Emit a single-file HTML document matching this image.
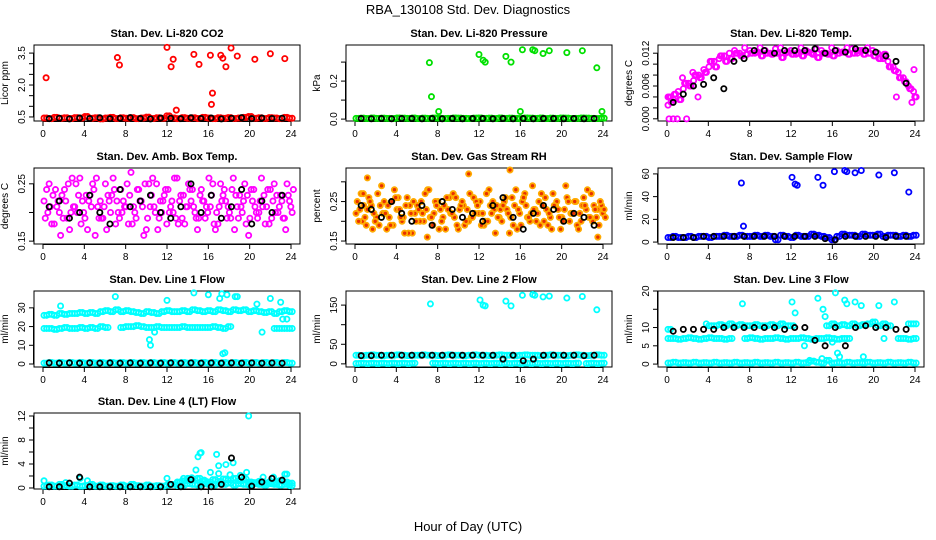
<!DOCTYPE html>
<html><head><meta charset="utf-8">
<style>
html,body{margin:0;padding:0;background:#fff;}
svg{display:block;font-family:"Liberation Sans",Arial,sans-serif;}
</style></head>
<body>
<svg id="chart" width="936" height="540" viewBox="0 0 936 540" xmlns="http://www.w3.org/2000/svg">
<rect width="936" height="540" fill="#fff"/>
<text x="468" y="14" font-size="13" text-anchor="middle">RBA_130108  Std. Dev. Diagnostics</text>
<text x="468" y="531" font-size="13" text-anchor="middle">Hour of Day (UTC)</text>
</svg>
<script>
// ---------- data ----------
const xTicks = [0,4,8,12,16,20,24];
const titles = ["Stan. Dev. Li-820 CO2","Stan. Dev. Li-820 Pressure","Stan. Dev. Li-820 Temp.","Stan. Dev. Amb. Box Temp.","Stan. Dev. Gas Stream RH","Stan. Dev. Sample Flow","Stan. Dev. Line 1 Flow","Stan. Dev. Line 2 Flow","Stan. Dev. Line 3 Flow","Stan. Dev. Line 4 (LT) Flow"];
const yTitles = ["Licor ppm","kPa","degrees C","degrees C","percent","ml/min","ml/min","ml/min","ml/min","ml/min"];
const yLims = [[0.31,3.88],[-0.01,0.39],[-0.0004,0.0135],[0.145,0.2776],[0.1425,0.335],[-1.7,65.2],[-1.6,39],[-8,186],[-0.8,20],[-0.17,12.5]];
const yTickVals = [[0.5,1,1.5,2,2.5,3,3.5],[0,0.1,0.2,0.3],[0,0.002,0.004,0.006,0.008,0.010,0.012],[0.15,0.20,0.25],[0.15,0.20,0.25,0.30],[0,20,40,60],[0,10,20,30],[0,50,100,150],[0,5,10,15,20],[0,2,4,6,8,10,12]];
const yTickLabels = [["0.5","","","2.0","","","3.5"],["0.0","","0.2",""],["0.000","","","0.006","","","0.012"],["0.15","","0.25"],["0.15","","0.25",""],["0","20","40","60"],["0","10","20","30"],["0","50","","150"],["0","5","10","","20"],["0","","4","","8","","12"]];

// P1 CO2
const co2Red = [0.45,0.42,0.48,0.44,0.46,0.43,0.47,0.45,0.52,0.44,0.46,0.41,0.45,0.48,0.43,0.46,0.44,0.47,0.42,0.45,0.49,0.43,0.46,0.44,0.55,0.45,0.42,0.47,0.44,0.46,0.43,0.48,0.45,0.42,0.46,0.44,0.47,0.43,0.45,0.48,0.52,0.44,0.46,0.43,0.47,0.45,0.42,0.48,0.44];
const co2Black = [0.42,0.44,0.41,0.45,0.43,0.46,0.42,0.44,0.47,0.43,0.41,0.45,0.44,0.42,0.46,0.43,0.45,0.41,0.44,0.47,0.42,0.45,0.43,0.44];
const co2OutX = [0.3,7.2,7.4,12.0,12.4,12.6,12.9,14.6,15.1,16.2,16.4,16.3,17.2,17.4,17.7,18.2,18.8,20.5,22.0,23.4];
const co2OutY = [2.34,3.29,2.94,3.77,2.86,3.21,0.82,3.44,2.97,3.40,1.62,1.09,3.40,3.26,2.86,3.74,3.36,3.21,3.47,3.24];
// P2 Pressure
const presGreen = [0.004,0.005,0.003,0.006,0.004,0.005,0.004,0.003,0.006,0.005,0.004,0.006,0.003,0.005,0.004,0.006,0.005,0.003,0.004,0.006,0.005,0.004,0.003,0.005,0.006,0.004,0.005,0.003,0.006,0.004,0.005,0.004,0.003,0.006,0.005,0.004,0.006,0.003,0.005,0.004,0.006,0.005,0.003,0.004,0.006,0.005,0.004,0.003,0.005];
const presBlack = [0.003,0.002,0.003,0.002,0.003,0.003,0.002,0.003,0.002,0.003,0.002,0.003,0.003,0.002,0.003,0.002,0.003,0.002,0.003,0.003,0.002,0.003,0.002,0.003];
const presOutX = [7.2,7.4,8.1,12.0,12.4,12.6,14.6,15.1,16.0,16.2,17.2,17.4,18.2,18.8,20.5,22.0,23.4,23.9];
const presOutY = [0.297,0.118,0.04,0.34,0.31,0.30,0.33,0.30,0.04,0.365,0.365,0.36,0.345,0.36,0.35,0.36,0.27,0.04];
// P3 Temp
const tempMagA = [0.0025,0.0035,0.005,0.0055,0.0065,0.007,0.008,0.009,0.0095,0.0105,0.011,0.0115,0.012,0.0125,0.012,0.013,0.0125,0.012,0.013,0.0125,0.012,0.0128,0.013,0.012,0.0125,0.0118,0.013,0.0125,0.012,0.0128,0.0125,0.012,0.013,0.0125,0.0122,0.013,0.0128,0.012,0.0125,0.013,0.0125,0.012,0.011,0.0105,0.0095,0.0085,0.0075,0.006,0.005];
const tempMagB = [0.004,0.0045,0.0035,0.0065,0.006,0.008,0.0075,0.0085,0.0105,0.0095,0.0115,0.0105,0.011,0.012,0.0115,0.0118,0.012,0.0122,0.0115,0.012,0.0118,0.012,0.0112,0.0122,0.0118,0.012,0.0115,0.0122,0.0118,0.0112,0.012,0.0118,0.0115,0.012,0.0122,0.0118,0.012,0.0125,0.0118,0.012,0.0115,0.011,0.0118,0.0095,0.0088,0.0075,0.0068,0.0055,0.004];
const tempBlack = [0.003,0.0045,0.006,0.0063,0.0075,0.0055,0.0105,0.011,0.0125,0.0125,0.012,0.0125,0.0125,0.0125,0.0128,0.012,0.0125,0.0122,0.0128,0.0125,0.0122,0.0115,0.0105,0.0065];
const tempOutX = [0.2,0.6,1.0,1.9,0.1,0.4,3.0,22.2,23.9,1.5,2.5,23.7];
const tempOutY = [0,0,0,0,0.004,0.003,0.004,0.004,0.009,0.0075,0.0085,0.003];
// P4 Ambient
const ambA = [.22,.25,.18,.20,.24,.17,.21,.26,.19,.23,.16,.22,.25,.20,.18,.24,.21,.27,.19,.22,.17,.23,.25,.20,.18,.22,.26,.19,.21,.24,.17,.22,.20,.25,.18,.23,.21,.26,.19,.22,.16,.24,.20,.23,.18,.25,.21,.19,.22];
const ambB = [.19,.21,.24,.16,.22,.20,.25,.18,.23,.21,.26,.19,.17,.23,.22,.20,.25,.18,.24,.21,.19,.26,.17,.22,.24,.20,.18,.23,.25,.21,.19,.22,.26,.18,.21,.24,.20,.17,.23,.25,.19,.21,.22,.18,.24,.20,.23,.17,.21];
const ambC = [.24,.18,.21,.23,.19,.26,.20,.22,.17,.25,.21,.19,.23,.26,.20,.22,.18,.21,.24,.16,.25,.21,.19,.23,.20,.26,.22,.18,.24,.20,.23,.19,.21,.17,.25,.22,.19,.23,.21,.18,.24,.20,.26,.21,.19,.23,.22,.25,.20];
const ambD = [.20,.23,.22,.19,.25,.21,.23,.20,.22,.24,.19,.21,.22,.24,.19,.21,.23,.20,.22,.25,.21,.20,.22,.24,.21,.19,.23,.21,.22,.19,.24,.21,.23,.20,.22,.19,.24,.21,.20,.23,.22,.19,.21,.24,.22,.20,.19,.23,.24];
const ambBlack = [.21,.22,.19,.20,.23,.20,.18,.24,.21,.22,.23,.20,.19,.21,.25,.20,.23,.19,.21,.24,.18,.22,.20,.23];
// P5 RH
const rhA = [.22,.27,.19,.24,.21,.29,.18,.25,.23,.20,.26,.17,.24,.22,.28,.19,.25,.21,.23,.27,.18,.24,.20,.26,.22,.19,.28,.23,.21,.25,.17,.24,.22,.27,.20,.23,.19,.26,.21,.24,.18,.29,.22,.25,.20,.23,.27,.21,.24];
const rhB = [.25,.20,.23,.18,.27,.22,.24,.19,.26,.21,.17,.25,.23,.20,.28,.22,.18,.24,.26,.21,.23,.19,.27,.22,.25,.20,.24,.17,.23,.26,.21,.28,.19,.24,.22,.20,.27,.23,.18,.25,.21,.26,.22,.19,.24,.28,.20,.23,.22];
const rhC = [.20,.24,.26,.22,.19,.25,.21,.28,.23,.17,.24,.22,.20,.27,.21,.25,.23,.18,.22,.26,.24,.20,.21,.25,.19,.27,.22,.24,.20,.23,.26,.18,.25,.21,.29,.22,.24,.19,.27,.23,.20,.25,.22,.18,.26,.21,.24,.19,.23];
const rhD = [.23,.21,.25,.20,.24,.22,.19,.26,.21,.24,.22,.20,.25,.23,.21,.24,.20,.26,.22,.19,.25,.23,.21,.24,.22,.20,.25,.21,.24,.22,.19,.23,.26,.21,.23,.25,.20,.22,.24,.21,.23,.20,.25,.22,.24,.21,.23,.25,.21];
const rhBlack = [.24,.23,.21,.25,.22,.20,.24,.19,.25,.23,.21,.22,.20,.24,.26,.21,.18,.22,.24,.23,.20,.22,.21,.19];
const rhOutX = [1.2,7.0,11.0,15.0,0.8,23.5];
const rhOutY = [0.31,0.16,0.32,0.33,0.27,0.16];
// P6 Sample flow
const sfBlue = [4,5,4,4,5,4,5,5,4,5,5,6,5,5,6,5,5,6,5,6,5,2,6,5,4,6,5,5,7,6,5,4,2,5,7,6,6,5,7,6,6,7,5,6,6,5,6,5,6];
const sfBlack = [4,4,4,5,5,5,5,5,5,5,5,5,5,5,5,3,2,5,5,5,5,4,5,5];
const sfOutX = [7.2,7.4,12.1,12.4,12.6,14.6,15.1,16.2,17.2,17.4,18.2,18.8,20.5,22.0,23.4];
const sfOutY = [52,14,57,51,50,57,50,62,63,62,61,63,59,61,44];
// P7 Line 1
const l1Top = [26,26.5,26,27,26.5,27,27,27.5,27,27.5,27,28,28.5,28,29,28,28.5,28,27.5,27,28,27.5,27,28,28.5,28,28,28.5,28,29,28.5,28,28.5,28,29,28.5,28,29,28.5,29,28,28.5,28,27.5,28,27,28,28.5,28];
const l1Mid = [19,19,18.5,19,19.5,19,19,19.5,19,19.5,19,20,19.5,null,null,19.5,20,20,20.5,20,19.5,19.5,20,19.5,19.5,19.5,19.5,20,19.5,19.5,19.5,19.5,19.5,20,19.5,19,20,null,null,null,null,null,null,null,null,19,19,19,19];
const l1Low = [0.5,0.8,0.5,0.8,0.5,0.8,0.5,0.8,0.5,0.8,0.5,0.8,0.5,0.8,0.5,0.8,0.5,0.8,0.5,0.8,0.5,0.8,0.5,0.8,0.5,0.8,0.5,0.8,0.5,0.8,0.5,0.8,0.5,0.8,0.5,0.8,0.5,0.8,0.5,0.8,0.5,0.8,0.5,0.8,0.5,0.8,0.5,0.8,0.5];
const l1Black = [0.6,0.5,0.6,0.5,0.6,0.5,0.6,0.5,0.6,0.5,0.6,0.5,0.6,0.5,0.6,0.5,0.6,0.5,0.6,0.5,0.6,0.5,0.6,0.5];
const l1OutX = [1.7,7.0,10.3,10.4,10.8,12.0,14.6,16.0,17.1,17.3,17.4,17.6,17.8,18.6,18.8,20.7,21.2,22.0,23.0,23.2,23.6];
const l1OutY = [31,36,13,10,17,34,38,37,35,37.5,5.5,6,37,36,36,32,17,35,33,24,24];
// P8 Line 2
const l2Low = [1,2,1,2,1,2,1,2,1,2,1,2,null,null,null,2,1,2,1,2,1,2,1,2,1,2,1,2,1,2,1,2,1,2,1,2,1,2,1,2,1,2,1,2,null,1,2,1,2];
const l2Mid = [22,21,22,23,22,21,22,22,23,22,21,22,22,23,22,22,21,22,23,22,22,21,22,23,22,22,21,22,23,22,22,21,22,23,22,22,21,22,23,22,22,21,22,23,22,21,22,23,22];
const l2Black = [21,21,22,22,22,22,22,22,22,22,22,22,22,22,12,22,8,12,22,22,22,22,21,22];
const l2OutX = [7.3,12.1,12.4,12.6,14.6,15.1,16.2,17.2,17.4,18.2,18.8,20.5,22.0,23.4];
const l2OutY = [153,163,150,148,160,148,175,177,175,171,173,168,172,138];
// P9 Line 3
const l3Low = [0.3,0.5,0.3,0.4,0.3,0.5,0.3,0.4,0.3,0.5,0.3,0.4,0.3,0.5,0.3,0.4,0.3,0.5,0.3,0.4,0.3,0.5,0.3,0.4,0.3,0.5,0.3,0.4,0.8,0.5,0.3,1.0,0.3,0.4,0.3,0.5,0.3,0.4,0.3,0.5,0.3,0.4,0.3,0.5,0.3,0.4,0.3,0.5,0.3];
const l3Mid = [7,7,6.8,7,7.2,7,6.8,7,7.2,7,7,6.8,7,null,null,7,7.2,7,6.8,7,7,7.2,7,6.8,7,7,7.2,7,6.8,7,7,7.2,7,6.8,7,7,null,null,null,null,null,null,null,null,null,7,7,6.8,7];
const l3Up = [9.5,null,null,null,null,null,null,null,10.5,10.5,10.8,10.5,11,10.5,10.8,10.5,10.5,10.8,10.5,10.5,10.8,10.5,11,10.5,10.5,null,null,null,null,null,null,10.5,11,10.5,10.8,10.5,11,10.5,10.8,11,11.5,10.5,11,10.5,null,null,null,11,11];
const l3Black = [9,9.5,9.5,9.5,9.5,10,10,10,10,10,10,9.5,10,10,6.5,5,10,5,10,10.5,10,10,9.5,9.5];
const l3OutX = [7.3,12.1,12.4,13.3,14.6,15.1,15.3,16.3,16.5,16.7,17.2,17.4,18.2,18.8,20.5,22.0,13.8,15.0,19.0,16.0,21.0,3.8];
const l3OutY = [16.5,17,14,5,18,15,13,19.5,3,2,17.5,16.5,17,16,16,17,1,1.5,2,6,7,11];
// P10 Line 4
const l4Base = [0.3,0.5,0.3,0.6,0.4,0.3,0.5,0.3,0.4,0.6,0.3,0.5,0.3,0.4,0.3,0.5,0.3,0.6,0.4,0.3,0.5,0.3,0.4,0.3,0.5,0.6,0.4,0.5,0.7,0.6,0.5,0.7,0.6,0.5,0.7,0.6,0.8,0.5,0.7,0.6,0.5,0.7,0.6,0.5,0.7,0.6,0.5,0.6,0.4];
const l4Cluster = [null,null,null,null,null,null,null,null,null,null,null,null,null,null,null,null,null,null,null,null,null,null,null,null,null,null,0.9,1.2,1.5,1.3,1.6,1.2,1.0,1.4,1.1,1.5,1.3,1.6,1.2,1.5,1.0,0.9,1.1,0.8,1.0,0.9,1.2,1.0,0.8];
const l4Black = [0.2,0.2,0.8,1.8,0.2,0.2,0.2,0.2,0.2,0.2,0.2,0.2,0.6,0.2,1.4,0.2,0.2,0.6,5.0,1.8,0.3,1.0,1.6,1.3];
const l4OutX = [0.1,2.2,3.6,4.3,12.0,13.6,14.0,14.4,14.8,15.0,15.2,15.3,16.2,16.8,17.0,17.0,17.7,18.1,18.4,19.1,19.7,19.9,20.2,21.3,22.3,23.4,23.6,13.0,14.2,15.6];
const l4OutY = [1.2,0.9,1.6,1.2,1.6,1.6,1.6,1.7,3.0,5.2,5.8,5.9,2.6,5.6,3.7,2.4,3.9,2.2,4.2,2.1,2.6,12,0.9,1.8,1.8,2.3,2.3,1.0,1.2,1.3];

// ---------- layout ----------
const NS = "http://www.w3.org/2000/svg";
const svg = document.getElementById('chart');
const lefts = [34,346,658], tops = [45,168,291,413], W = 266, H = 76;
const XLIM = [-0.87,24.87];
function mk(tag, attrs, parent){ const e=document.createElementNS(NS,tag); for(const k in attrs) e.setAttribute(k,attrs[k]); (parent||svg).appendChild(e); return e; }
function xScale(i){ const L=lefts[i%3]; return v => L + (v-XLIM[0])/(XLIM[1]-XLIM[0])*W; }
function yScale(i){ const T=tops[Math.floor(i/3)], lim=yLims[i]; return v => T + (lim[1]-v)/(lim[1]-lim[0])*H; }
function hourGrid(start, step, n){ const a=[]; for(let k=0;k<n;k++) a.push(start+k*step); return a; }
const H49 = hourGrid(0.1,0.495,49);
const HB = hourGrid(0.6,0.98,24);

function drawPanel(i){
  const L=lefts[i%3], T=tops[Math.floor(i/3)], sx=xScale(i), sy=yScale(i);
  const g = mk('g',{});
  
  
  const t = mk('text',{x:L+W/2,y:T-8,'font-size':11,'font-weight':'bold','text-anchor':'middle'},g);
  t.textContent = titles[i];
  
  
  const box = mk('rect',{x:L,y:T,width:W,height:H,fill:'none',stroke:'#000','stroke-width':1},g);
  
  
  const xa = mk('g',{},g);
  
  
  mk('line',{x1:sx(0),x2:sx(24),y1:T+H+0.5,y2:T+H+0.5,stroke:'#000'},xa);
  xTicks.forEach(v=>{
    mk('line',{x1:sx(v),x2:sx(v),y1:T+H,y2:T+H+5,stroke:'#000'},xa);
    const tl = mk('text',{x:sx(v),y:T+H+16,'font-size':10,'text-anchor':'middle'},xa);
    tl.textContent = String(v);
    
    
  });
  const ya = mk('g',{},g);
  
  
  const tv=yTickVals[i];
  mk('line',{x1:L-0.5,x2:L-0.5,y1:sy(tv[0]),y2:sy(tv[tv.length-1]),stroke:'#000'},ya);
  tv.forEach((v,k)=>{
    mk('line',{x1:L-5,x2:L,y1:sy(v),y2:sy(v),stroke:'#000'},ya);
    if(yTickLabels[i][k]){
      const yl = mk('text',{x:0,y:0,'font-size':10,'text-anchor':'middle',transform:`translate(${L-9},${sy(v)}) rotate(-90)`},ya);
      yl.textContent = yTickLabels[i][k];
      
      
    }
  });
  const yt = mk('text',{x:0,y:0,'font-size':10,'text-anchor':'middle',transform:`translate(${L-26},${T+H/2}) rotate(-90)`},g);
  yt.textContent = yTitles[i];
  
  
  return g;
}
function series(i, xs, ys, color, fill){
  const sx=xScale(i), sy=yScale(i);
  const g = mk('g',{});
  
  
  for(let k=0;k<ys.length && k<xs.length;k++){
    if(ys[k]===null) continue;
    const c = mk('circle',{cx:sx(xs[k]),cy:sy(ys[k]),r:2.6,fill:fill||'none',stroke:color,'stroke-width':1.8},g);
    
    
  }
}
function shift(a,d){ return a.map(v=>v+d); }

for(let i=0;i<10;i++) drawPanel(i);
const RED='#ff0000',GRN='#00e000',MAG='#ff00ff',BLU='#0000ff',CYN='#00ffff',BLK='#000',ORG='#ffaa00';
// P1
series(0,H49,co2Red,RED); series(0,shift(H49,0.25),co2Red,RED); series(0,co2OutX,co2OutY,RED); series(0,HB,co2Black,BLK);
// P2
series(1,H49,presGreen,GRN); series(1,shift(H49,0.25),presGreen,GRN); series(1,HB,presBlack,BLK); series(1,presOutX,presOutY,GRN);
// P3
series(2,H49,tempMagA,MAG); series(2,shift(H49,0.25),tempMagB,MAG); series(2,shift(H49,0.12),tempMagB,MAG); series(2,tempOutX,tempOutY,MAG); series(2,HB,tempBlack,BLK);
// P4
series(3,H49,ambA,MAG); series(3,shift(H49,0.12),ambB,MAG); series(3,shift(H49,0.25),ambC,MAG); series(3,shift(H49,0.37),ambD,MAG); series(3,HB,ambBlack,BLK);
// P5
series(4,H49,rhA,ORG,'#e83000'); series(4,shift(H49,0.12),rhB,ORG,'#e83000'); series(4,shift(H49,0.25),rhC,ORG,'#e83000'); series(4,shift(H49,0.37),rhD,ORG,'#e83000'); series(4,rhOutX,rhOutY,ORG,'#e83000'); series(4,HB,rhBlack,BLK);
// P6
series(5,H49,sfBlue,BLU); series(5,shift(H49,0.25),sfBlue,BLU); series(5,HB,sfBlack,BLK); series(5,sfOutX,sfOutY,BLU);
// P7
series(6,H49,l1Top,CYN); series(6,shift(H49,0.25),l1Top,CYN); series(6,H49,l1Mid,CYN); series(6,shift(H49,0.25),l1Mid,CYN); series(6,H49,l1Low,CYN); series(6,shift(H49,0.25),l1Low,CYN); series(6,HB,l1Black,BLK); series(6,l1OutX,l1OutY,CYN);
// P8
series(7,H49,l2Low,CYN); series(7,shift(H49,0.25),l2Low,CYN); series(7,H49,l2Mid,CYN); series(7,shift(H49,0.25),l2Mid,CYN); series(7,HB,l2Black,BLK); series(7,l2OutX,l2OutY,CYN);
// P9
series(8,H49,l3Low,CYN); series(8,shift(H49,0.25),l3Low,CYN); series(8,H49,l3Mid,CYN); series(8,shift(H49,0.25),l3Mid,CYN); series(8,H49,l3Up,CYN); series(8,shift(H49,0.25),l3Up,CYN); series(8,l3OutX,l3OutY,CYN); series(8,HB,l3Black,BLK);
// P10
series(9,H49,l4Base,CYN); series(9,shift(H49,0.25),l4Base,CYN); series(9,H49,l4Cluster,CYN); series(9,shift(H49,0.25),l4Cluster,CYN); series(9,l4OutX,l4OutY,CYN); series(9,HB,l4Black,BLK);
</script>
</body></html>
